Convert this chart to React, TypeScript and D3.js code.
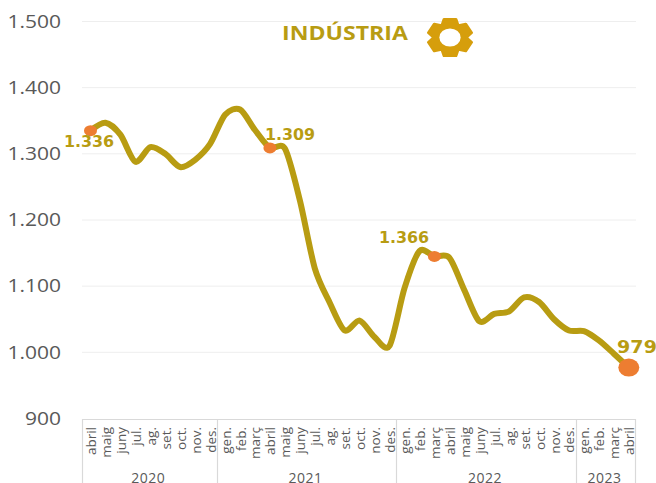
import React from "react";
import * as d3 from "d3";

const W = 656, H = 483;
const months = ["abril","maig","juny","jul.","ag.","set.","oct.","nov.","des.","gen.","feb.","març","abril","maig","juny","jul.","ag.","set.","oct.","nov.","des.","gen.","feb.","març","abril","maig","juny","jul.","ag.","set.","oct.","nov.","des.","gen.","feb.","març","abril"];
const values = [1335,1347,1329,1288,1310,1300,1280,1291,1315,1359,1367,1336,1309,1308,1230,1127,1075,1033,1048,1023,1010,1097,1153,1145,1143,1094,1047,1058,1062,1083,1076,1050,1033,1032,1018,998,977];
const yTicks = [900,1000,1100,1200,1300,1400,1500];
const years = [{ label: "2020", n: 9 }, { label: "2021", n: 12 }, { label: "2022", n: 12 }, { label: "2023", n: 4 }];
const callouts = [
  { i: 0, text: "1.336", lx: 89, ly: 142, rx: 6.5, ry: 5.5, size: 15 },
  { i: 12, text: "1.309", lx: 290, ly: 135, rx: 6.5, ry: 5.5, size: 15 },
  { i: 23, text: "1.366", lx: 404, ly: 238, rx: 6.5, ry: 5.5, size: 15 },
  { i: 36, text: "979", lx: 637, ly: 347, rx: 10.5, ry: 9, size: 18 },
];
const GOLD = "#b89c12", ORANGE = "#ed7d31", GRAY = "#595959", FONT = "'Open Sans', 'Noto Sans', sans-serif";

const band = d3.scaleBand<number>().domain(d3.range(months.length)).range([82, 635.5]);
const x = d3.scalePoint<number>().domain(d3.range(months.length)).range([90.5, 628.8]);
const y = d3.scaleLinear().domain([900, 1500]).range([418.5, 21.5]);
const cx = (i: number) => x(i) as number;
const line = d3.line<number>().x((_, i) => cx(i)).y(d => y(d)).curve(d3.curveCardinal.tension(0.15));
const fmt = (v: number) => d3.format(",")(v).replace(",", ".");

function gearPath() {
  const teeth = 6, ro = 20, rb = 15;
  const pts: [number, number][] = [];
  for (let k = 0; k < teeth; k++) {
    const a = (k * Math.PI * 2) / teeth - Math.PI / 2;
    pts.push([a - 0.5, rb], [a - 0.27, ro], [a + 0.27, ro], [a + 0.5, rb]);
  }
  const p = d3.path();
  pts.forEach(([a, r], i) => {
    const px = r * Math.cos(a), py = r * Math.sin(a);
    i ? p.lineTo(px, py) : p.moveTo(px, py);
  });
  p.closePath();
  return p.toString();
}

export default function App() {
  let acc = 0;
  const seps = [0, ...years.map(yr => (acc += yr.n))];
  let start = 0;
  return (
    <svg width={W} height={H} style={{ position: "fixed", left: 0, top: 0, background: "#fff" }} fontFamily={FONT}>
      {yTicks.slice(1).map(t => (
        <line key={t} x1={82} x2={636} y1={y(t)} y2={y(t)} stroke="#eeeeee" strokeWidth={1} />
      ))}
      {yTicks.map(t => (
        <text key={t} transform={`translate(61,${y(t)}) scale(1.2,1)`} dy="0.36em" textAnchor="end" fontSize={17.5} fill={GRAY}>{fmt(t)}</text>
      ))}
      <line x1={82} x2={636} y1={419.5} y2={419.5} stroke="#d9d9d9" strokeWidth={1} />
      {seps.map(s => {
        const px = s === months.length ? 635.5 : Math.round(band(s) as number) + 0.5;
        return <line key={s} x1={px} x2={px} y1={419} y2={H} stroke="#d9d9d9" strokeWidth={1.2} />;
      })}
      {months.map((m, i) => (
        <text key={i} transform={`translate(${cx(i) + 5.5},427) rotate(-90)`} textAnchor="end" fontSize={13.5} fill={GRAY}>{m}</text>
      ))}
      {years.map(yr => {
        const a = band(start) as number;
        const b = a + yr.n * band.bandwidth();
        start += yr.n;
        return <text key={yr.label} x={(a + b) / 2 - 1} y={483} textAnchor="middle" fontSize={14} letterSpacing={0.5} fill={GRAY}>{yr.label}</text>;
      })}
      <path d={line(values) as string} fill="none" stroke={GOLD} strokeWidth={6} strokeLinecap="round" strokeLinejoin="round" />
      {callouts.map(c => (
        <g key={c.i}>
          <ellipse cx={cx(c.i)} cy={y(values[c.i])} rx={c.rx} ry={c.ry} fill={ORANGE} />
          <text transform={`translate(${c.lx},${c.ly}) scale(1.06,1)`} dy="0.36em" textAnchor="middle" fontSize={c.size} fontWeight={700} fill={GOLD} fontFamily="'DejaVu Sans', sans-serif">{c.text}</text>
        </g>
      ))}
      <text transform="translate(345,33) scale(1.155,1)" dy="0.36em" textAnchor="middle" fontSize={20} fontWeight={700} fill={GOLD}>INDÚSTRIA</text>
      <g transform="translate(450,37.5) scale(1.12,0.95)">
        <path d={gearPath()} fill="#d69e0c" stroke="#d69e0c" strokeWidth={2.5} strokeLinejoin="round" />
        <circle r={9.5} fill="#fff" />
      </g>
    </svg>
  );
}
